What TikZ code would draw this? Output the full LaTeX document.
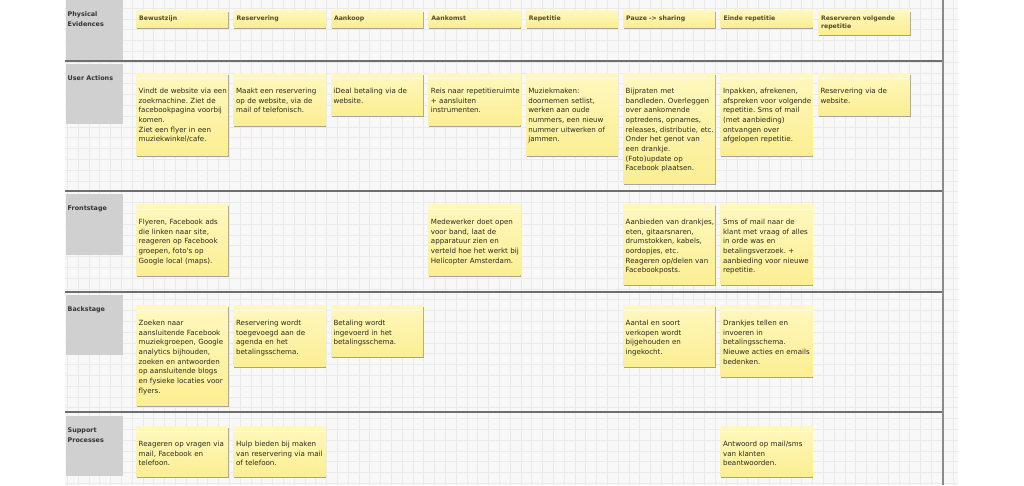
\documentclass[tikz,border=0pt]{standalone}
\usepackage{fontspec}
\newfontfamily\dv{DejaVu Sans}
\usetikzlibrary{calc}
\definecolor{canvasbg}{HTML}{F8F8F8}
\definecolor{gridc}{HTML}{EAEAEA}
\definecolor{lanec}{HTML}{D0D0D0}
\definecolor{sepc}{HTML}{6E6E6E}
\definecolor{stkT}{HTML}{FFF8BE}
\definecolor{stkB}{HTML}{FBEE93}
\definecolor{shadowc}{HTML}{A3A39A}
\definecolor{txtc}{HTML}{2A2A1E}
\definecolor{hdrc}{HTML}{584A22}
\definecolor{lanetxt}{HTML}{333333}
\tikzset{
  stickybox/.style={draw=none, top color=stkT, bottom color=stkB, anchor=north west, inner sep=0pt, minimum width=92pt},
  stickytext/.style={anchor=base west, text width=120pt, align=left, inner sep=0pt, text=txtc, font=\dv\fontsize{7.1}{9.7}\selectfont},
  hdrtext/.style={anchor=base west, text width=120pt, align=left, inner sep=0pt, text=hdrc, font=\dv\bfseries\fontsize{6.2}{7.7}\selectfont},
  lanebox/.style={fill=lanec, draw=none, anchor=north west, inner sep=0pt, minimum width=57pt},
  lanetext/.style={anchor=base west, text width=80pt, align=left, inner sep=0pt, text=lanetxt, font=\dv\bfseries\fontsize{6.4}{9.7}\selectfont},
  seprule/.style={draw=sepc, line width=1.8pt},
  shadowfill/.style={fill=shadowc}
}
\newcommand\stk[5]{%
  \fill[shadowfill] (#2+1,#3+2) rectangle (#2+92.8,#4+1.6);
  \node[stickybox, minimum height={#4-#3}] (#1) at (#2,#3) {};
  \draw[white, opacity=.55, line width=0.6pt] ($(#1.north west)+(1,5)$) -- ($(#1.north east)+(-1,5)$);
  \node[stickytext] (#1t) at ($(#1.north west)+(2.5,20.3)$) {#5};
}
\newcommand\hdr[4]{%
  \fill[shadowfill] (#2+1,12) rectangle (#2+92.8,#3+1.6);
  \node[stickybox, minimum height={#3-10}] (#1) at (#2,10) {};
  \node[hdrtext] (#1t) at ($(#1.north west)+(3,10.6)$) {#4};
}
\newcommand\lane[5]{%
  \node[lanebox, minimum height={#4-#3}] (#1) at (#2,#3) {};
  \node[lanetext] (#1t) at ($(#1.north west)+(1.5,16.3)$) {#5};
}
\begin{document}
\frenchspacing\hyphenpenalty=10000\relax\exhyphenpenalty=10000\relax
\begin{tikzpicture}[x=1pt,y=-1pt]
\useasboundingbox (0,0) rectangle (1024,485);
\fill[white] (0,0) rectangle (1024,485);
\fill[canvasbg] (65,0) rectangle (958,485);
\begin{scope}
  \clip (65,0) rectangle (958,485);
  \foreach \i in {0,...,83} \draw[gridc, line width=0.5pt] ({67.3+10.8*\i},0) -- ({67.3+10.8*\i},485);
  \foreach \j in {0,...,44} \draw[gridc, line width=0.5pt] (65,{8+10.8*\j}) -- (958,{8+10.8*\j});
\end{scope}
% separators
\draw[seprule] (65,61) -- (943,61);
\draw[seprule] (65,191) -- (943,191);
\draw[seprule] (65,292) -- (943,292);
\draw[seprule] (65,412) -- (943,412);
\draw[draw=sepc!80, line width=1.5pt] (943,0) -- (943,485);
% lane labels
\lane{lpe}{66}{0}{60}{Physical\\Evidences}
\lane{lua}{66}{64}{124}{User Actions}
\lane{lfs}{66}{194}{255}{Frontstage}
\lane{lbs}{66}{295}{355}{Backstage}
\lane{lsp}{66}{416}{476}{Support\\Processes}
% physical evidences
\hdr{pe1}{136}{27}{Bewustzijn}
\hdr{pe2}{233.4}{27}{Reservering}
\hdr{pe3}{330.8}{27}{Aankoop}
\hdr{pe4}{428.2}{27}{Aankomst}
\hdr{pe5}{525.6}{27}{Repetitie}
\hdr{pe6}{623}{27}{Pauze -> sharing}
\hdr{pe7}{720.4}{27}{Einde repetitie}
\hdr{pe8}{817.8}{34}{Reserveren volgende\\repetitie}
% user actions
\stk{ua1}{136}{73}{155}{Vindt de website via een\\zoekmachine. Ziet de\\facebookpagina voorbij\\komen.\\Ziet een flyer in een\\muziekwinkel/cafe.}
\stk{ua2}{233.4}{73}{125}{Maakt een reservering\\op de website, via de\\mail of telefonisch.}
\stk{ua3}{330.8}{73}{115}{iDeal betaling via de\\website.}
\stk{ua4}{428.2}{73}{125}{Reis naar repetitieruimte\\+ aansluiten\\instrumenten.}
\stk{ua5}{525.6}{73}{155}{Muziekmaken:\\doornemen setlist,\\werken aan oude\\nummers, een nieuw\\nummer uitwerken of\\jammen.}
\stk{ua6}{623}{73}{183}{Bijpraten met\\bandleden. Overleggen\\over aankomende\\optredens, opnames,\\releases, distributie, etc.\\Onder het genot van\\een drankje.\\(Foto)update op\\Facebook plaatsen.}
\stk{ua7}{720.4}{73}{155}{Inpakken, afrekenen,\\afspreken voor volgende\\repetitie. Sms of mail\\(met aanbieding)\\ontvangen over\\afgelopen repetitie.}
\stk{ua8}{817.8}{73}{115}{Reservering via de\\website.}
% frontstage
\stk{fs1}{136}{204}{275}{Flyeren, Facebook ads\\die linken naar site,\\reageren op Facebook\\groepen, foto's op\\Google local (maps).}
\stk{fs4}{428.2}{204}{275}{Medewerker doet open\\voor band, laat de\\apparatuur zien en\\verteld hoe het werkt bij\\Helicopter Amsterdam.}
\stk{fs6}{623}{204}{284}{Aanbieden van drankjes,\\eten, gitaarsnaren,\\drumstokken, kabels,\\oordopjes, etc.\\Reageren op/delen van\\Facebookposts.}
\stk{fs7}{720.4}{204}{284}{Sms of mail naar de\\klant met vraag of alles\\in orde was en\\betalingsverzoek. +\\aanbieding voor nieuwe\\repetitie.}
% backstage
\stk{bs1}{136}{305}{405}{Zoeken naar\\aansluitende Facebook\\muziekgroepen, Google\\analytics bijhouden,\\zoeken en antwoorden\\op aansluitende blogs\\en fysieke locaties voor\\flyers.}
\stk{bs2}{233.4}{305}{366}{Reservering wordt\\toegevoegd aan de\\agenda en het\\betalingsschema.}
\stk{bs3}{330.8}{305}{356}{Betaling wordt\\ingevoerd in het\\betalingsschema.}
\stk{bs6}{623}{305}{366}{Aantal en soort\\verkopen wordt\\bijgehouden en\\ingekocht.}
\stk{bs7}{720.4}{305}{376}{Drankjes tellen en\\invoeren in\\betalingsschema.\\Nieuwe acties en emails\\bedenken.}
% support processes
\stk{sp1}{136}{426}{476}{Reageren op vragen via\\mail, Facebook en\\telefoon.}
\stk{sp2}{233.4}{426}{476}{Hulp bieden bij maken\\van reservering via mail\\of telefoon.}
\stk{sp7}{720.4}{426}{476}{Antwoord op mail/sms\\van klanten\\beantwoorden.}
\end{tikzpicture}
\end{document}
